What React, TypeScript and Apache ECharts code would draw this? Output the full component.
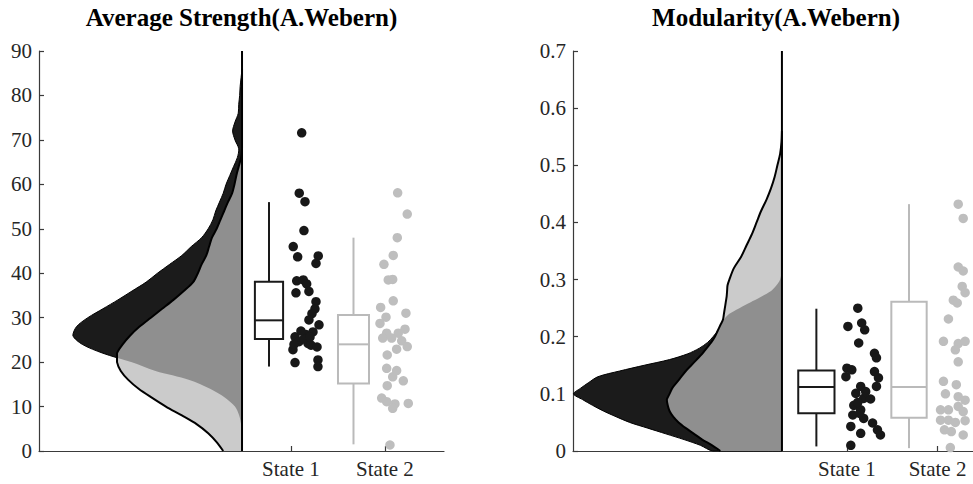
import React, { useEffect, useRef } from 'react';
import * as echarts from 'echarts';

// ---------- data ----------
const states = ['State 1', 'State 2'];
const titles = ['Average Strength(A.Webern)', 'Modularity(A.Webern)'];

// half-violin density profiles (value grid, density width in axis units)
const strengthGrid = [0, 2, 4, 6, 8, 10, 12, 14, 16, 18, 20, 22, 24, 26, 28, 30, 32, 34, 36, 38, 40, 42, 44, 46, 48, 50, 52, 54, 56, 58, 60, 62, 64, 66, 68, 70, 72, 74, 76, 78, 80, 82, 84, 86];
const strengthDensity1 = [0, 0, 0, 0.01, 0.03, 0.075, 0.18, 0.34, 0.56, 0.92, 1.18, 1.48, 1.7, 1.8, 1.76, 1.64, 1.48, 1.32, 1.17, 1.02, 0.9, 0.77, 0.64, 0.54, 0.43, 0.36, 0.31, 0.28, 0.24, 0.2, 0.17, 0.13, 0.09, 0.05, 0.035, 0.075, 0.1, 0.075, 0.04, 0.035, 0.025, 0.02, 0.01, 0];
const strengthDensity2 = [0.2, 0.27, 0.36, 0.48, 0.64, 0.81, 0.96, 1.1, 1.21, 1.29, 1.33, 1.33, 1.27, 1.19, 1.09, 0.97, 0.85, 0.73, 0.62, 0.52, 0.47, 0.43, 0.38, 0.35, 0.32, 0.27, 0.23, 0.19, 0.15, 0.105, 0.08, 0.06, 0.035, 0.01, 0, 0, 0, 0, 0, 0, 0, 0, 0, 0];

const modularityGrid = [0, 0.01, 0.02, 0.03, 0.04, 0.05, 0.06, 0.07, 0.08, 0.09, 0.1, 0.11, 0.12, 0.13, 0.14, 0.15, 0.16, 0.17, 0.18, 0.19, 0.2, 0.21, 0.22, 0.23, 0.24, 0.25, 0.26, 0.27, 0.28, 0.29, 0.3, 0.32, 0.34, 0.36, 0.38, 0.4, 0.42, 0.44, 0.46, 0.48, 0.5, 0.52, 0.54, 0.56];
const modularityDensity1 = [0.76, 0.9, 1.08, 1.28, 1.48, 1.68, 1.83, 1.97, 2.09, 2.2, 2.3, 2.22, 2.13, 2.03, 1.79, 1.52, 1.24, 1.04, 0.91, 0.82, 0.76, 0.71, 0.67, 0.64, 0.58, 0.47, 0.35, 0.23, 0.12, 0.06, 0.02, 0, 0, 0, 0, 0, 0, 0, 0, 0, 0, 0, 0, 0];
const modularityDensity2 = [0.68, 0.77, 0.88, 0.97, 1.06, 1.14, 1.2, 1.24, 1.26, 1.27, 1.24, 1.21, 1.16, 1.11, 1.06, 1.0, 0.94, 0.88, 0.83, 0.78, 0.74, 0.71, 0.68, 0.65, 0.64, 0.63, 0.62, 0.61, 0.605, 0.6, 0.58, 0.53, 0.45, 0.39, 0.33, 0.28, 0.23, 0.17, 0.12, 0.08, 0.05, 0.02, 0.005, 0];

// box plots: [lower whisker, q1, median, q3, upper whisker]
const strengthBox1 = [19.0, 25.2, 29.4, 38.1, 56.0];
const strengthBox2 = [1.5, 15.2, 24.0, 30.6, 48.0];
const modularityBox1 = [0.008, 0.066, 0.112, 0.141, 0.249];
const modularityBox2 = [0.005, 0.058, 0.112, 0.261, 0.432];

// raw points (value) and their horizontal jitter from the state position
const strengthState1 = [71.6, 58.0, 56.1, 49.6, 46.0, 43.7, 43.9, 42.2, 38.3, 38.5, 37.6, 35.6, 35.9, 33.6, 32.0, 30.9, 29.5, 28.4, 26.8, 26.2, 25.7, 24.6, 24.2, 25.2, 22.8, 23.8, 23.4, 19.9, 20.5, 19.0, 27.0, 25.6, 24.0];
const strengthJitter1 = [0.114, 0.088, 0.149, 0.138, 0.024, 0.071, 0.29, 0.266, 0.061, 0.131, 0.167, 0.053, 0.191, 0.266, 0.255, 0.223, 0.191, 0.298, 0.234, 0.16, 0.043, 0.085, 0.181, 0.138, 0.021, 0.213, 0.277, 0.043, 0.287, 0.287, 0.106, 0.202, 0.032];
const strengthState2 = [58.1, 53.3, 48.0, 44.0, 42.0, 38.5, 38.6, 33.8, 32.3, 31.0, 30.1, 28.7, 27.4, 26.5, 26.5, 25.4, 25.4, 24.8, 23.5, 22.9, 21.6, 18.6, 18.1, 16.7, 15.8, 14.7, 11.9, 11.1, 10.6, 9.6, 10.7, 1.35];
const strengthJitter2 = [0.135, 0.237, 0.131, 0.088, -0.011, 0.035, 0.082, 0.088, -0.046, 0.223, 0.011, -0.053, 0.213, 0.018, 0.141, -0.024, 0.071, 0.178, 0.237, 0.124, 0.024, 0.018, 0.124, 0.082, 0.195, 0.024, -0.035, 0.018, 0.106, 0.082, 0.248, 0.053];
const modularityState1 = [0.25, 0.218, 0.224, 0.212, 0.189, 0.171, 0.163, 0.145, 0.142, 0.13, 0.139, 0.128, 0.113, 0.113, 0.101, 0.092, 0.091, 0.08, 0.072, 0.063, 0.057, 0.085, 0.043, 0.049, 0.037, 0.031, 0.028, 0.01, 0.066, 0.104];
const modularityJitter1 = [0.12, 0.011, 0.163, 0.196, 0.13, 0.304, 0.326, 0.0, 0.054, -0.011, 0.304, 0.348, 0.326, 0.152, 0.098, 0.185, 0.261, 0.076, 0.152, 0.065, 0.185, 0.12, 0.043, 0.283, 0.337, 0.152, 0.37, 0.043, 0.141, 0.207];
const modularityState2 = [0.432, 0.407, 0.322, 0.315, 0.288, 0.277, 0.264, 0.259, 0.231, 0.192, 0.188, 0.192, 0.177, 0.156, 0.122, 0.116, 0.1, 0.095, 0.089, 0.072, 0.072, 0.078, 0.069, 0.054, 0.054, 0.05, 0.053, 0.037, 0.034, 0.028, 0.006];
const modularityJitter2 = [0.228, 0.283, 0.228, 0.283, 0.272, 0.304, 0.174, 0.217, 0.12, 0.065, 0.228, 0.304, 0.196, 0.228, 0.065, 0.207, 0.087, 0.228, 0.304, 0.033, 0.12, 0.228, 0.283, 0.033, 0.12, 0.196, 0.304, 0.076, 0.152, 0.283, 0.141];

// ---------- styles / layout ----------
const FONT = 'Liberation Serif';
const DARK = '#1b1b1b';
const MID = '#8f8f8f';
const LIGHT = '#cbcbcb';
const DOT1 = '#181818';
const DOT2 = '#bebebe';
const BOX1 = '#1a1a1a';
const BOX2 = '#bababa';
const AXIS = '#3a3a3a';
const LABEL = '#262626';

const panels = [
  {
    title: titles[0], left: 39, width: 405, xMin: -1.681, xMax: 2.628, yMax: 90, yInterval: 10,
    cloudX: 0.479, boxX: [0.766, 1.665], boxW: [0.3, 0.33],
    grid: strengthGrid, d1: strengthDensity1, d2: strengthDensity2,
    boxes: [strengthBox1, strengthBox2],
    pts: [[strengthState1, strengthJitter1], [strengthState2, strengthJitter2]],
  },
  {
    title: titles[1], left: 573, width: 406, xMin: -2.022, xMax: 2.391, yMax: 0.7, yInterval: 0.1,
    cloudX: 0.283, boxX: [0.663, 1.685], boxW: [0.4, 0.39],
    grid: modularityGrid, d1: modularityDensity1, d2: modularityDensity2,
    boxes: [modularityBox1, modularityBox2],
    pts: [[modularityState1, modularityJitter1], [modularityState2, modularityJitter2]],
  },
];

function bbox(pts: number[][]) {
  let x0 = Infinity, y0 = Infinity, x1 = -Infinity, y1 = -Infinity;
  pts.forEach(([x, y]) => {
    x0 = Math.min(x0, x); y0 = Math.min(y0, y);
    x1 = Math.max(x1, x); y1 = Math.max(y1, y);
  });
  return [[x0, y0], [x1, y1]];
}

function cloudRenderer(p: any) {
  return (params: any, api: any) => {
    const outline = (d: number[]) => {
      const pts: number[][] = [api.coord([p.cloudX, p.grid[0]])];
      p.grid.forEach((v: number, i: number) => pts.push(api.coord([p.cloudX - d[i], v])));
      pts.push(api.coord([p.cloudX, p.grid[p.grid.length - 1]]));
      return pts;
    };
    const p1 = outline(p.d1);
    const p2 = outline(p.d2);
    const smooth = 0.3;
    const c1 = bbox(p1);
    const c2 = bbox(p2);
    const top = api.coord([p.cloudX, p.yMax]);
    const bottom = api.coord([p.cloudX, 0]);
    return {
      type: 'group',
      children: [
        { type: 'polygon', shape: { points: p1, smooth, smoothConstraint: c1 }, style: { fill: DARK, stroke: '#000', lineWidth: 1 } },
        { type: 'polygon', shape: { points: p2, smooth, smoothConstraint: c2 }, style: { fill: LIGHT } },
        {
          type: 'polygon', shape: { points: p2, smooth, smoothConstraint: c2 }, style: { fill: MID },
          clipPath: { type: 'polygon', shape: { points: p1, smooth, smoothConstraint: c1 } },
        },
        { type: 'polyline', shape: { points: p2.slice(1, -1), smooth, smoothConstraint: c2 }, style: { fill: 'none', stroke: '#000', lineWidth: 2 } },
        { type: 'line', shape: { x1: top[0], y1: top[1], x2: bottom[0], y2: bottom[1] }, style: { stroke: '#000', lineWidth: 2 } },
      ],
    };
  };
}

function boxRenderer(p: any) {
  return (params: any, api: any) => {
    const i = params.dataIndex;
    const x = api.value(0);
    const lo = api.value(1), q1 = api.value(2), med = api.value(3), q3 = api.value(4), hi = api.value(5);
    const half = p.boxW[i] / 2;
    const color = i === 0 ? BOX1 : BOX2;
    const tl = api.coord([x - half, q3]);
    const br = api.coord([x + half, q1]);
    const mL = api.coord([x - half, med]);
    const mR = api.coord([x + half, med]);
    const c = (v: number) => api.coord([x, v]);
    const style = { stroke: color, lineWidth: 2, fill: 'none' };
    return {
      type: 'group',
      children: [
        { type: 'line', shape: { x1: c(q3)[0], y1: c(q3)[1], x2: c(hi)[0], y2: c(hi)[1] }, style },
        { type: 'line', shape: { x1: c(q1)[0], y1: c(q1)[1], x2: c(lo)[0], y2: c(lo)[1] }, style },
        { type: 'rect', shape: { x: tl[0], y: tl[1], width: br[0] - tl[0], height: br[1] - tl[1] }, style: { ...style, fill: '#fff' } },
        { type: 'line', shape: { x1: mL[0], y1: mL[1], x2: mR[0], y2: mR[1] }, style },
      ],
    };
  };
}

function buildOption() {
  const series: any[] = [];
  panels.forEach((p, gi) => {
    series.push({
      type: 'custom', xAxisIndex: gi, yAxisIndex: gi, silent: true, z: 2,
      data: [[p.cloudX, 0]], renderItem: cloudRenderer(p),
    });
    series.push({
      type: 'custom', xAxisIndex: gi, yAxisIndex: gi, silent: true, z: 3,
      encode: { x: 0, y: [1, 2, 3, 4, 5] },
      data: p.boxes.map((b, k) => [p.boxX[k], ...b]),
      renderItem: boxRenderer(p),
    });
    p.pts.forEach(([vals, jit], k) => {
      series.push({
        type: 'scatter', xAxisIndex: gi, yAxisIndex: gi, silent: true, z: 4,
        symbolSize: 9.5,
        itemStyle: { color: k === 0 ? DOT1 : DOT2, opacity: 1 },
        data: vals.map((v: number, j: number) => [k + 1 + jit[j], v]),
      });
    });
  });

  return {
    animation: false,
    backgroundColor: '#fff',
    textStyle: { fontFamily: FONT },
    title: panels.map((p) => ({
      text: p.title,
      left: p.left + p.width / 2,
      top: 5,
      textAlign: 'center',
      padding: 0,
      textStyle: { fontFamily: FONT, fontWeight: 'bold', fontSize: 25, color: '#000' },
    })),
    grid: panels.map((p) => ({ left: p.left, top: 51, width: p.width, height: 400 })),
    xAxis: panels.map((p, gi) => ({
      type: 'value', gridIndex: gi, min: p.xMin, max: p.xMax,
      splitLine: { show: false },
      axisLine: { show: true, onZero: false, lineStyle: { color: AXIS, width: 1.2 } },
      axisTick: { show: true, inside: true, length: 5, customValues: [1, 2], lineStyle: { color: AXIS, width: 1.2 } },
      axisLabel: {
        customValues: [1, 2],
        formatter: (v: number) => states[Math.round(v) - 1] ?? '',
        fontFamily: FONT, fontSize: 21, color: LABEL, margin: 7,
      },
    })),
    yAxis: panels.map((p, gi) => ({
      type: 'value', gridIndex: gi, min: 0, max: p.yMax, interval: p.yInterval,
      splitLine: { show: false },
      axisLine: { show: true, onZero: false, lineStyle: { color: AXIS, width: 1.2 } },
      axisTick: { show: true, inside: true, length: 5, lineStyle: { color: AXIS, width: 1.2 } },
      axisLabel: { fontFamily: FONT, fontSize: 21, color: LABEL, margin: 7 },
    })),
    series,
  };
}

export default function App() {
  const ref = useRef<HTMLDivElement>(null);
  useEffect(() => {
    if (!ref.current) return;
    const chart = echarts.init(ref.current, undefined, { renderer: 'svg' });
    chart.setOption(buildOption() as any);
    return () => chart.dispose();
  }, []);
  return (
    <div
      ref={ref}
      style={{ position: 'fixed', left: 0, top: 0, width: 973, height: 484, background: '#fff' }}
    />
  );
}
